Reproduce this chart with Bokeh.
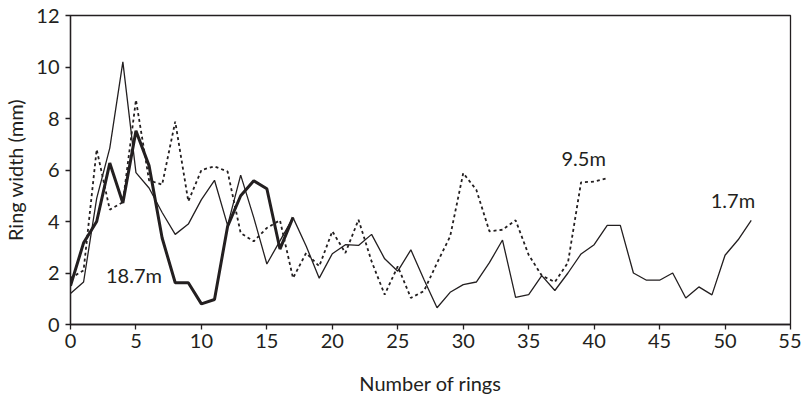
from bokeh.plotting import figure
from bokeh.embed import file_html
from bokeh.resources import INLINE
from bokeh.models import FixedTicker, Range1d, Label
from bokeh.core.properties import value

# Ring widths (mm) by ring number
rings_17 = list(range(0, 53))
width_17 = [1.2, 1.65, 4.9, 6.85, 10.2, 5.9, 5.3, 4.35, 3.5, 3.9,
            4.85, 5.6, 3.85, 5.8, 4.15, 2.35, 3.25, 4.15, 3.05, 1.8,
            2.75, 3.1, 3.07, 3.5, 2.55, 2.07, 2.9, 1.75, 0.65, 1.25,
            1.55, 1.65, 2.4, 3.28, 1.05, 1.16, 1.9, 1.32, 2.0, 2.74,
            3.1, 3.85, 3.85, 2.0, 1.72, 1.72, 2.0, 1.03, 1.46, 1.15,
            2.69, 3.29, 4.04]

rings_95 = list(range(0, 42))
width_95 = [1.8, 2.1, 6.8, 4.46, 4.75, 8.72, 5.6, 5.43, 7.88, 4.78,
            6.0, 6.14, 5.94, 3.55, 3.23, 3.75, 4.05, 1.8, 2.78, 2.26,
            3.62, 2.78, 4.07, 2.45, 1.16, 2.26, 1.03, 1.3, 2.39, 3.42,
            5.88, 5.23, 3.62, 3.68, 4.05, 2.7, 1.9, 1.65, 2.4, 5.52,
            5.55, 5.68]

rings_187 = list(range(0, 18))
width_187 = [1.5, 3.17, 4.0, 6.27, 4.72, 7.52, 6.17, 3.36, 1.62, 1.62,
             0.8, 0.97, 3.81, 5.0, 5.58, 5.27, 2.93, 4.16]

series_labels = ["1.7m", "9.5m", "18.7m"]
label_x = [50.6, 39.2, 4.85]
label_y = [4.84, 6.47, 1.94]

x_ticks = list(range(0, 56, 5))
y_ticks = list(range(0, 13, 2))

FONT = "Lato"
INK = "#231f20"

p = figure(width=801, height=397, output_backend="svg", toolbar_location=None,
           x_range=Range1d(0, 55), y_range=Range1d(0, 12),
           min_border_left=68, min_border_right=11, min_border_top=15, min_border_bottom=72)

p.line(rings_17, width_17, line_color=INK, line_width=1.3)
p.line(rings_95, width_95, line_color=INK, line_width=1.8, line_dash="3 3")
p.line(rings_187, width_187, line_color=INK, line_width=3)

for t, lx, ly in zip(series_labels, label_x, label_y):
    p.add_layout(Label(x=lx, y=ly, text=t, text_align="center", text_baseline="middle",
                       text_font=FONT, text_font_size="20px", text_color=INK))

p.xgrid.visible = False
p.ygrid.visible = False
p.outline_line_color = INK
p.outline_line_width = 1.3
p.background_fill_color = "white"
p.border_fill_color = "white"

for ax in (p.xaxis[0], p.yaxis[0]):
    ax.axis_line_color = INK
    ax.axis_line_width = 1.3
    ax.major_tick_line_color = INK
    ax.major_tick_line_width = 1.3
    ax.major_tick_out = 5
    ax.major_tick_in = 0
    ax.minor_tick_line_color = None
    ax.major_label_text_font = FONT
    ax.major_label_text_font_size = "20px"
    ax.major_label_text_color = INK
    ax.axis_label_text_font = FONT
    ax.axis_label_text_font_size = "20px"
    ax.axis_label_text_font_style = "normal"
    ax.axis_label_text_color = INK

p.xaxis[0].ticker = FixedTicker(ticks=x_ticks)
p.yaxis[0].ticker = FixedTicker(ticks=y_ticks)
p.xaxis[0].axis_label = "Number of rings"
p.yaxis[0].axis_label = "Ring width (mm)"
p.xaxis[0].major_label_standoff = 4
p.xaxis[0].axis_label_standoff = 20
p.yaxis[0].major_label_standoff = 6
p.yaxis[0].axis_label_standoff = 6

open("out.html", "w").write(file_html(p, INLINE))
